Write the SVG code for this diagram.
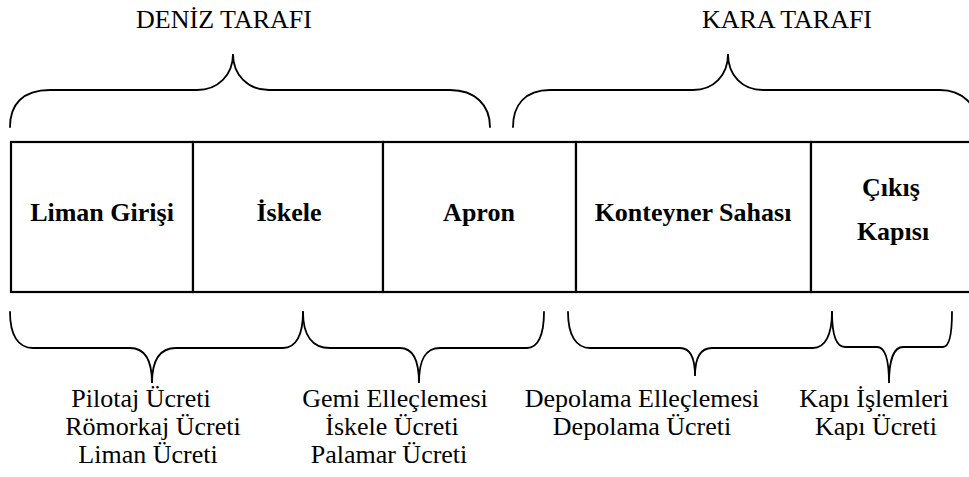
<svg xmlns="http://www.w3.org/2000/svg" width="969" height="477" viewBox="0 0 969 477">
<style>
text{font-family:'Liberation Serif',Tinos,'Times New Roman','DejaVu Serif',serif;font-size:26px;fill:#000;text-anchor:middle}
.b{font-weight:bold}
.cell{fill:#fff;stroke:#000;stroke-width:2.2}
.brace{fill:none;stroke:#000;stroke-width:1.8;stroke-linecap:round}
</style>
<rect width="969" height="477" fill="#fff"/>
<g id="cells">
<g id="liman-girisi"><rect class="cell" x="11" y="142" width="182" height="150"/><text class="b" x="102" y="221">Liman Girişi</text></g>
<g id="iskele"><rect class="cell" x="193" y="142" width="190" height="150"/><text class="b" x="289" y="221">İskele</text></g>
<g id="apron"><rect class="cell" x="383" y="142" width="193" height="150"/><text class="b" x="479" y="221">Apron</text></g>
<g id="konteyner-sahasi"><rect class="cell" x="576" y="142" width="235" height="150"/><text class="b" x="693" y="221">Konteyner Sahası</text></g>
<g id="cikis-kapisi"><rect class="cell" x="811" y="142" width="170" height="150"/><text class="b" x="891" y="196">Çıkış</text><text class="b" x="893" y="240">Kapısı</text></g>
</g>
<g id="deniz-tarafi"><text x="224" y="28">DENİZ TARAFI</text></g>
<g id="kara-tarafi"><text x="787" y="28">KARA TARAFI</text></g>
<g id="ucret-liman"><text x="141" y="407">Pilotaj Ücreti</text><text x="153" y="435">Römorkaj Ücreti</text><text x="148" y="463">Liman Ücreti</text></g>
<g id="ucret-iskele"><text x="395" y="407">Gemi Elleçlemesi</text><text x="392" y="435">İskele Ücreti</text><text x="389" y="463">Palamar Ücreti</text></g>
<g id="ucret-depolama"><text x="642" y="407">Depolama Elleçlemesi</text><text x="642" y="435">Depolama Ücreti</text></g>
<g id="ucret-kapi"><text x="874" y="407">Kapı İşlemleri</text><text x="876" y="435">Kapı Ücreti</text></g>
<g id="connectors">
<path class="brace" d="M10,127 C10,105 22,90 50,90 L197,90 C218,90 233,75 233,54 C233,75 248,90 269,90 L450,90 C475,90 490,105 490,127"/>
<path class="brace" d="M513,127 C513,105 525,90 550,90 L693,90 C714,90 728,75 728,54 C728,75 742,90 763,90 L940,90 C962,90 978,105 978,127"/>
<path class="brace" d="M10,312 C10,335 18,348 33,348 L130,348 C145,348 152,360 152,383 C152,360 160,348 176,348 L283,348 C296,348 303,335 303,312"/>
<path class="brace" d="M303,312 C303,335 312,348 330,348 L400,348 C413,348 419,360 419,383 C419,360 425,348 440,348 L527,348 C538,348 544,335 544,312"/>
<path class="brace" d="M568,312 C568,335 576,348 590,348 L680,348 C690,348 695,358 695,376 C695,358 700,348 712,348 L813,348 C825,348 832,335 832,312"/>
<path class="brace" d="M832,312 C832,335 836,347 845,347 L877,347 C885,347 889,360 889,383 C889,360 894,347 903,347 L943,347 C949,347 952,335 952,312"/>
</g>
</svg>
